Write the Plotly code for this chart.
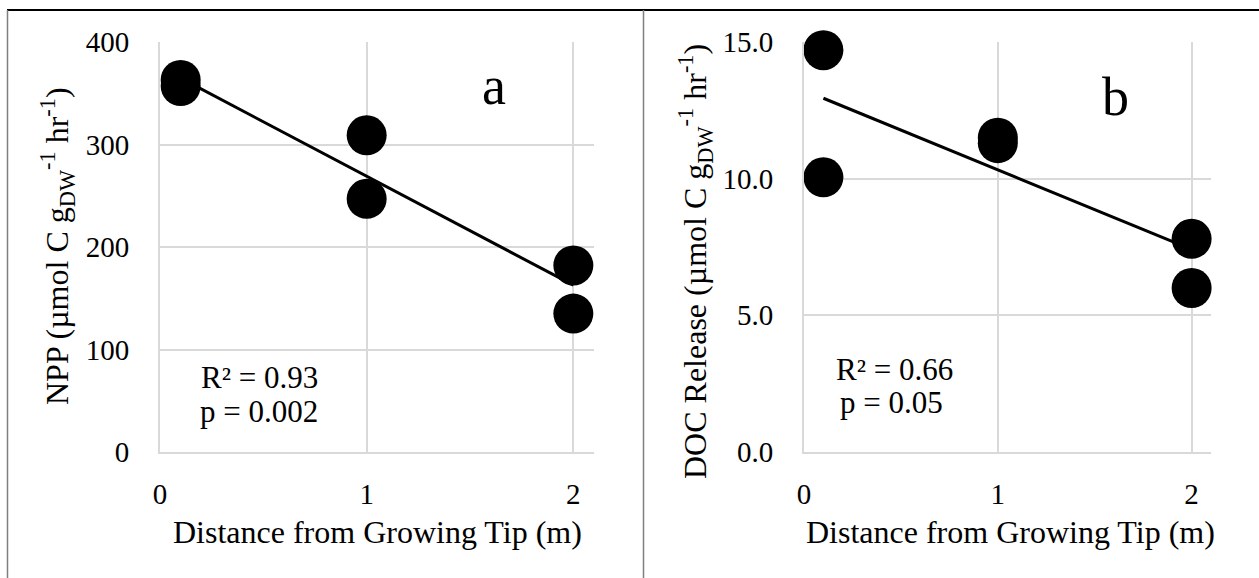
import numpy as np
import plotly.graph_objects as go

# ---- data ----
distance = [0.1, 0.1, 1.0, 1.0, 2.0, 2.0]
npp = [363, 357, 309, 247, 182, 135]
doc = [14.7, 10.05, 11.5, 11.3, 7.8, 6.0]

x_ticks = [0, 1, 2]
npp_ticks = [0, 100, 200, 300, 400]
doc_ticks = [0, 5, 10, 15]

stats_a = ["R² = 0.93", "p = 0.002"]
stats_b = ["R² = 0.66", "p = 0.05"]

W, H = 1259, 578
FONT = "Liberation Serif"


def px(x):
    return x / W


def py(y):
    return 1 - y / H


def trend(x, y):
    m, b = np.polyfit(x, y, 1)
    xs = np.array([min(x), max(x)])
    return xs, m * xs + b


fig = go.Figure()

for xa, ya, yvals in [("x", "y", npp), ("x2", "y2", doc)]:
    tx, ty = trend(distance, yvals)
    fig.add_trace(go.Scatter(x=distance, y=yvals, mode="markers", xaxis=xa, yaxis=ya,
                             marker=dict(size=40, color="black"), showlegend=False,
                             cliponaxis=False))
    fig.add_trace(go.Scatter(x=tx, y=ty, mode="lines", xaxis=xa, yaxis=ya,
                             line=dict(color="black", width=3), showlegend=False))

grid = "#d9d9d9"
common_x = dict(range=[0, 2.1], tickvals=x_ticks, showgrid=True, gridcolor=grid, gridwidth=2,
                zeroline=False, showline=True, linecolor=grid, linewidth=2,
                tickfont=dict(family=FONT, size=29, color="black"), ticks="",
                ticklabelstandoff=15, automargin=False)
common_y = dict(showgrid=True, gridcolor=grid, gridwidth=2, zeroline=False,
                showline=True, linecolor=grid, linewidth=2,
                tickfont=dict(family=FONT, size=29, color="black"), ticks="",
                ticklabelstandoff=23, automargin=False)

ydom = [py(452), py(42)]
fig.update_layout(
    template="none",
    width=W, height=H, margin=dict(l=0, r=0, t=0, b=0, pad=0, autoexpand=False),
    paper_bgcolor="white", plot_bgcolor="white",
    showlegend=False,
    font=dict(family=FONT, color="black"),
    xaxis=dict(domain=[px(160), px(594)], anchor="y", **common_x),
    yaxis=dict(domain=ydom, anchor="x", range=[0, 400], tickvals=npp_ticks, **common_y),
    xaxis2=dict(domain=[px(804), px(1211)], anchor="y2", **common_x),
    yaxis2=dict(domain=ydom, anchor="x2", range=[0, 15], tickvals=doc_ticks,
                tickformat=".1f", **common_y),
)

ann = []


def text(x, y, s, size, angle=0):
    ann.append(dict(x=px(x), y=py(y), xref="paper", yref="paper", text=s, showarrow=False,
                    xanchor="center", yanchor="middle", textangle=angle,
                    font=dict(family=FONT, size=size, color="black")))


text(377, 532, "Distance from Growing Tip (m)", 32)
text(1010, 532, "Distance from Growing Tip (m)", 32)
text(57, 246, "NPP (µmol C g<sub>DW</sub><sup>-1</sup> hr<sup>-1</sup>)", 32, -90)
text(695, 262, "DOC Release (µmol C g<sub>DW</sub><sup>-1</sup> hr<sup>-1</sup>)", 32, -90)
text(494, 86, "a", 54)
text(1115, 97, "b", 54)
text(259, 377, stats_a[0], 31)
text(259, 411, stats_a[1], 31)
text(894, 369, stats_b[0], 31)
text(891, 402, stats_b[1], 31)
fig.update_layout(annotations=ann)

shapes = [
    dict(type="line", xref="paper", yref="paper", x0=px(7), x1=1, y0=py(10), y1=py(10),
         line=dict(color="black", width=2)),
    dict(type="line", xref="paper", yref="paper", x0=px(7.5), x1=px(7.5), y0=py(10), y1=0,
         line=dict(color="#7f7f7f", width=1.5)),
    dict(type="line", xref="paper", yref="paper", x0=px(643.5), x1=px(643.5), y0=py(10), y1=0,
         line=dict(color="#7f7f7f", width=1.5)),
]
fig.update_layout(shapes=shapes)

fig.write_html("out.html")
